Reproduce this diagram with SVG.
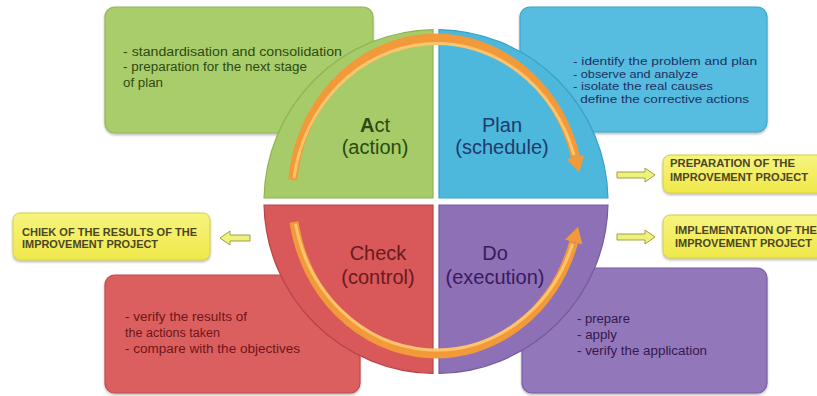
<svg xmlns="http://www.w3.org/2000/svg" width="817" height="396" viewBox="0 0 817 396">
<style>
.box{stroke-width:1.2}
.txt{font-family:"Liberation Sans",Arial,sans-serif;font-size:12.5px}
.btxt{font-family:"Liberation Sans",Arial,sans-serif;font-size:10.8px}
.ytxt{font-family:"Liberation Sans",Arial,sans-serif;font-size:10px;font-weight:bold;fill:#4a4622}
.q{font-family:"Liberation Sans",Arial,sans-serif;font-size:20px;text-anchor:middle}
.harrow{fill:#eef27c;stroke:#9fa044;stroke-width:1}
.ring{fill:none;stroke:#f29a3a;stroke-width:9}
.ringhi{fill:none;stroke:#fcc46c;stroke-width:3}
</style>
<defs>
<linearGradient id="yel" x1="0" y1="0" x2="0" y2="1">
<stop offset="0" stop-color="#f7f47e"/>
<stop offset="1" stop-color="#efe84a"/>
</linearGradient>
<filter id="sh" x="-5%" y="-5%" width="110%" height="115%">
<feDropShadow dx="0" dy="1.5" stdDeviation="1.2" flood-color="#000" flood-opacity="0.3"/>
</filter>
<marker id="ah" markerUnits="userSpaceOnUse" viewBox="0 -10 18 20" refX="0" refY="0" markerWidth="18" markerHeight="20" orient="auto">
<path d="M0,-9 L16,0 L0,9 Z" fill="#f29a3a"/>
</marker>
</defs>

<g id="act-box"><rect class="box" x="105" y="7" width="268" height="126" rx="10" fill="#a9cd6b" stroke="#93b65a" filter="url(#sh)"/>
<text class="txt" fill="#2c4a12"><tspan x="123" y="56" textLength="219" lengthAdjust="spacingAndGlyphs">- standardisation and consolidation</tspan><tspan x="123" y="71" textLength="184" lengthAdjust="spacingAndGlyphs">- preparation for the next stage</tspan><tspan x="123" y="87" textLength="40" lengthAdjust="spacingAndGlyphs">of plan</tspan></text></g>

<g id="plan-box"><rect class="box" x="520" y="7" width="247" height="125" rx="10" fill="#56bde0" stroke="#3fa5c8" filter="url(#sh)"/>
<text class="btxt" fill="#1d2f60"><tspan x="573" y="65" textLength="184" lengthAdjust="spacingAndGlyphs">- identify the problem and plan</tspan><tspan x="573" y="77.5" textLength="125" lengthAdjust="spacingAndGlyphs">- observe and analyze</tspan><tspan x="573" y="90" textLength="140" lengthAdjust="spacingAndGlyphs">- isolate the real causes</tspan><tspan x="572" y="102.5" textLength="177" lengthAdjust="spacingAndGlyphs">- define the corrective actions</tspan></text></g>

<g id="check-box"><rect class="box" x="105" y="275" width="255" height="118" rx="10" fill="#dc5f5e" stroke="#c04a4a" filter="url(#sh)"/>
<text class="txt" fill="#6e1518"><tspan x="125" y="321" textLength="122" lengthAdjust="spacingAndGlyphs">- verify the results of</tspan><tspan x="125" y="337" textLength="95" lengthAdjust="spacingAndGlyphs">the actions taken</tspan><tspan x="125" y="353" textLength="175" lengthAdjust="spacingAndGlyphs">- compare with the objectives</tspan></text></g>

<g id="do-box"><rect class="box" x="522" y="268" width="245" height="125" rx="10" fill="#9277ba" stroke="#7a5fa3" filter="url(#sh)"/>
<text class="txt" fill="#35184f"><tspan x="577" y="323" textLength="53" lengthAdjust="spacingAndGlyphs">- prepare</tspan><tspan x="577" y="339" textLength="40" lengthAdjust="spacingAndGlyphs">- apply</tspan><tspan x="577" y="355" textLength="130" lengthAdjust="spacingAndGlyphs">- verify the application</tspan></text></g>

<g id="prep-note"><rect x="663" y="155" width="170" height="38" rx="7" fill="url(#yel)" stroke="#d6cf45" filter="url(#sh)"/>
<text class="ytxt"><tspan x="670" y="167" textLength="125" lengthAdjust="spacingAndGlyphs">PREPARATION OF THE</tspan><tspan x="670" y="181" textLength="138" lengthAdjust="spacingAndGlyphs">IMPROVEMENT PROJECT</tspan></text></g>

<g id="impl-note"><rect x="663" y="215" width="170" height="43" rx="7" fill="url(#yel)" stroke="#d6cf45" filter="url(#sh)"/>
<text class="ytxt"><tspan x="675" y="234" textLength="142" lengthAdjust="spacingAndGlyphs">IMPLEMENTATION OF THE</tspan><tspan x="675" y="247" textLength="137" lengthAdjust="spacingAndGlyphs">IMPROVEMENT PROJECT</tspan></text></g>

<g id="check-note"><rect x="13" y="213" width="197" height="47" rx="7" fill="url(#yel)" stroke="#d6cf45" filter="url(#sh)"/>
<text class="ytxt"><tspan x="22" y="236" textLength="175" lengthAdjust="spacingAndGlyphs">CHIEK OF THE RESULTS OF THE</tspan><tspan x="22" y="248" textLength="136" lengthAdjust="spacingAndGlyphs">IMPROVEMENT PROJECT</tspan></text></g>

<g id="connectors">
<polygon class="harrow" points="617,172 645,172 645,168 655,175 645,182 645,178 617,178"/>
<polygon class="harrow" points="617,234 645,234 645,230 655,237 645,244 645,240 617,240"/>
<polygon class="harrow" points="250,235 230,235 230,231 220,238 230,245 230,241 250,241"/>
</g>

<g id="act"><path d="M433,198 H264.04 A172,172 0 0,1 433,29.53 Z" fill="#a6cb68" stroke="#8fb455" stroke-width="1.2"/>
<text class="q" fill="#2a4a10"><tspan x="375" y="132"><tspan font-weight="bold">A</tspan>ct</tspan><tspan x="375" y="154">(action)</tspan></text></g>

<g id="plan"><path d="M439,198 V29.53 A172,172 0 0,1 607.96,198 Z" fill="#4db8dc" stroke="#3aa0c4" stroke-width="1.2"/>
<text class="q" fill="#1f3a6c"><tspan x="502" y="132">Plan</tspan><tspan x="502" y="154">(schedule)</tspan></text></g>

<g id="check"><path d="M433,205 V373.47 A172,172 0 0,1 264.04,205 Z" fill="#d9585a" stroke="#b94446" stroke-width="1.2"/>
<text class="q" fill="#6a1a1c"><tspan x="378" y="260">Check</tspan><tspan x="378" y="284">(control)</tspan></text></g>

<g id="do"><path d="M439,205 H607.96 A172,172 0 0,1 439,373.47 Z" fill="#8e70b6" stroke="#765a9e" stroke-width="1.2"/>
<text class="q" fill="#3a1a5c"><tspan x="495" y="260">Do</tspan><tspan x="495" y="284">(execution)</tspan></text></g>

<g id="cycle-arrows">
<path class="ring" d="M292.7,180 A144,158 0 0,1 575.5,157" marker-end="url(#ah)"/>
<path class="ringhi" d="M294,178 A144,158 0 0,1 574,155"/>
<path class="ring" d="M294,222 A144,158 0 0,0 573.7,242.2" marker-end="url(#ah)"/>
<path class="ringhi" d="M295.5,224 A144,158 0 0,0 572.5,244"/>
</g>
</svg>
